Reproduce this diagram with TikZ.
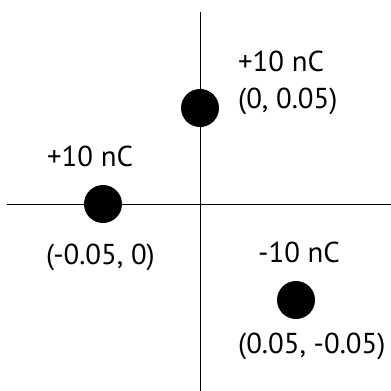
\documentclass[tikz,border=0pt]{standalone}
\usepackage{fontspec}
\setmainfont{PT Sans}
\usetikzlibrary{positioning}

\begin{document}
\begin{tikzpicture}[x=1pt, y=1pt]
	\tikzset{
		charge/.style={
			circle,
			fill=black,
			minimum size=38pt,
			inner sep=0pt
		},
		lbl/.style={
			font=\fontsize{28.8}{32}\selectfont,
			inner sep=0pt,
			anchor=base west
		},
	}
	\useasboundingbox (0,0) rectangle (391,-391);

	% axes
	\coordinate (top) at (200,-12);
	\coordinate (bottom) at (200,-391);
	\coordinate (left) at (7,-204);
	\coordinate (right) at (391,-204);
	\draw[line width=1pt] (top) -- (bottom);
	\draw[line width=1pt] (left) -- (right);

	% charges
	\node[charge] (a) at (200,-108) {};
	\node[charge] (b) at (103,-204) {};
	\node[charge] (c) at (296,-300) {};

	\node[lbl] (aq) at (238,-71) {+10 nC};
	\node[lbl] (apos) at (238,-108) {(0, 0.05)};
	\node[lbl] (bq) at (47,-166) {+10 nC};
	\node[lbl] (bpos) at (46,-264) {(-0.05, 0)};
	\node[lbl] (cq) at (258,-262) {-10 nC};
	\node[lbl] (cpos) at (238,-353) {(0.05, -0.05)};
\end{tikzpicture}
\end{document}
